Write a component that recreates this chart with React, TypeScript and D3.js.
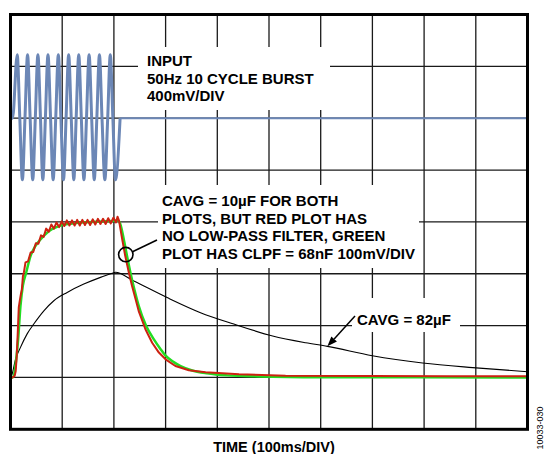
import * as d3 from "d3";
import { useEffect, useRef } from "react";

// INPUT burst, 50Hz, 400mV/DIV (centre on 2nd grid line from top)
const inputTimes = [
  0, 4, 13, 18, 23, 28, 33, 38, 43, 48, 53, 58, 62.5, 67.5, 72.5, 77.5, 82.5,
  87.5, 92.5, 97.5, 102.5, 107.5, 112.5, 117.5, 122.5, 127, 132, 137, 142, 147,
  152, 157, 162, 167, 172, 177, 182.5, 188, 193, 198, 203, 212,
];
const inputMv = [
  0, 0, 490, 0, -475, 0, 490, 0, -475, 0, 490, 0, -475, 0, 490, 0, -475, 0,
  490, 0, -475, 0, 490, 0, -475, 0, 490, 0, -475, 0, 490, 0, -475, 0, 490, 0,
  -475, 0, 490, 0, -475, 0,
];
const inputTailTimes = [212, 1000];
const inputTailMv = [0, 0];

// CAVG = 10uF, no low-pass filter (red), 100mV/DIV
const redTimes = [
  0, 4, 8, 10, 12, 14, 16, 18, 20, 22, 24, 26, 29, 34, 39, 44, 49, 54, 59, 64,
  69, 74, 79, 84, 89, 94, 99, 104, 109, 114, 119, 124, 129, 134, 139, 144, 149,
  154, 159, 164, 169, 174, 179, 184, 189, 194, 199, 204, 207, 210, 216, 222,
  229, 235, 242, 248, 261, 274, 287, 300, 319, 345, 377, 442, 532, 700, 850,
  1000,
];
const redMv = [
  0, 0, 3, 12, 40, 85, 135, 148, 160, 170, 195, 203, 222, 224, 241, 242, 259,
  258, 274, 271, 287, 281, 295, 287, 299, 290, 301, 292, 303, 293, 303, 293,
  304, 293, 304, 294, 304, 294, 305, 295, 306, 296, 306, 296, 307, 297, 308,
  299, 310, 302, 267, 234, 202, 177, 151, 128, 93, 67, 48, 35, 22, 14, 10, 6,
  3.5, 3, 2.5, 2.5,
];

// CAVG = 10uF, CLPF = 68nF (green)
const greenTimes = [
  0, 4, 6.4, 11, 14.8, 19.3, 23.9, 30.3, 38.7, 48.4, 58, 74, 93.5, 119, 158,
  203, 207, 212, 219, 225, 232, 240, 248, 262, 277, 290, 300, 315, 329, 350,
  380, 420, 480, 600, 1000,
];
const greenMv = [
  0, 0, 3, 35, 74, 138, 177, 202, 234, 254, 266, 282, 292, 297, 300, 302, 303,
  297, 267, 236, 202, 168, 138, 100, 74, 55, 42, 30, 22, 14, 8, 4, 2, 0.5, 0,
];

// CAVG = 82uF (black)
const blackTimes = [
  0, 3, 9.7, 19.3, 32.2, 45, 64.5, 83.8, 109.6, 141.8, 174, 200, 203, 238.5,
  303, 367.5, 432, 507, 571, 613, 700, 797, 894, 1000,
];
const blackMv = [
  0, 6, 35, 58, 84, 103, 128.5, 148, 164, 180, 193, 202, 203, 186, 154, 125,
  103, 80, 67, 60, 42, 28, 19, 11,
];

const inputLabel = ["INPUT", "50Hz 10 CYCLE BURST", "400mV/DIV"];
const cavgLabel = [
  "CAVG = 10µF FOR BOTH",
  "PLOTS, BUT RED PLOT HAS",
  "NO LOW-PASS FILTER, GREEN",
  "PLOT HAS CLPF = 68nF 100mV/DIV",
];

interface Sample {
  t: number;
  v: number;
}

function zip(times: number[], values: number[]): Sample[] {
  return times.map((t, i) => ({ t, v: values[i] }));
}

const FONT = "'Liberation Sans', Arial, sans-serif";

export default function App() {
  const ref = useRef<SVGSVGElement>(null);

  useEffect(() => {
    const svg = d3.select(ref.current);
    svg.selectAll("*").remove();

    // screen frame
    const left = 10.5;
    const right = 527.5;
    const top = 14.5;
    const bottom = 429.3;

    const x = d3.scaleLinear().domain([0, 1000]).range([left, right]);
    const yDiv = d3.scaleLinear().domain([-4, 4]).range([bottom, top]);
    const yIn = d3.scaleLinear().domain([-2400, 800]).range([bottom, top]);
    const yOut = d3.scaleLinear().domain([-100, 700]).range([bottom, top]);

    svg
      .append("rect")
      .attr("width", 544)
      .attr("height", 454)
      .attr("fill", "#fff");

    // grid
    svg
      .selectAll("line.vgrid")
      .data(d3.range(100, 1000, 100))
      .enter()
      .append("line")
      .attr("x1", (d) => x(d))
      .attr("x2", (d) => x(d))
      .attr("y1", top)
      .attr("y2", bottom)
      .attr("stroke", "#1a1a1a")
      .attr("stroke-width", 1.3);

    svg
      .selectAll("line.hgrid")
      .data(d3.range(-3, 4))
      .enter()
      .append("line")
      .attr("x1", left)
      .attr("x2", right)
      .attr("y1", (d) => yDiv(d))
      .attr("y2", (d) => yDiv(d))
      .attr("stroke", "#1a1a1a")
      .attr("stroke-width", 1.3);

    const inLine = d3
      .line<Sample>()
      .x((d) => x(d.t))
      .y((d) => yIn(d.v))
      .curve(d3.curveMonotoneX);

    const outSmooth = d3
      .line<Sample>()
      .x((d) => x(d.t))
      .y((d) => yOut(d.v))
      .curve(d3.curveMonotoneX);

    const outRaw = d3
      .line<Sample>()
      .x((d) => x(d.t))
      .y((d) => yOut(d.v));

    // input burst + flat tail
    svg
      .append("path")
      .datum(zip(inputTailTimes, inputTailMv))
      .attr("fill", "none")
      .attr("stroke", "#6c87b6")
      .attr("stroke-width", 2)
      .attr("d", inLine);

    svg
      .append("path")
      .datum(zip(inputTimes, inputMv))
      .attr("fill", "none")
      .attr("stroke", "#6c87b6")
      .attr("stroke-width", 3)
      .attr("stroke-linejoin", "round")
      .attr("d", inLine);

    // 82uF
    svg
      .append("path")
      .datum(zip(blackTimes, blackMv))
      .attr("fill", "none")
      .attr("stroke", "#000")
      .attr("stroke-width", 1.1)
      .attr("d", outSmooth);

    // with LPF
    svg
      .append("path")
      .datum(zip(greenTimes, greenMv))
      .attr("fill", "none")
      .attr("stroke", "#22dd22")
      .attr("stroke-width", 2.5)
      .attr("d", outSmooth);

    // no LPF
    svg
      .append("path")
      .datum(zip(redTimes, redMv))
      .attr("fill", "none")
      .attr("stroke", "#cc2211")
      .attr("stroke-width", 2)
      .attr("stroke-linejoin", "round")
      .attr("d", outRaw);

    // label boxes (mask the graticule)
    const boxes = [
      { x: 138, y: 47, w: 192, h: 63 },
      { x: 158, y: 185, w: 261, h: 83 },
      { x: 352, y: 298, w: 108, h: 34 },
    ];
    svg
      .selectAll("rect.box")
      .data(boxes)
      .enter()
      .append("rect")
      .attr("x", (d) => d.x)
      .attr("y", (d) => d.y)
      .attr("width", (d) => d.w)
      .attr("height", (d) => d.h)
      .attr("fill", "#fff");

    const label = (lines: string[], lx: number, ly: number, step: number) => {
      svg
        .append("g")
        .selectAll("text")
        .data(lines)
        .enter()
        .append("text")
        .attr("x", lx)
        .attr("y", (_, i) => ly + i * step)
        .attr("font-family", FONT)
        .attr("font-weight", "bold")
        .attr("font-size", 15)
        .attr("fill", "#000")
        .text((d) => d);
    };

    label(inputLabel, 147, 66, 17.5);
    label(cavgLabel, 162, 206, 17.7);
    label(["CAVG = 82µF"], 357, 325, 0);

    // circle marking the 10uF traces + leader to the label
    const cx = x(223);
    const cy = yOut(237);
    svg
      .append("circle")
      .attr("cx", cx)
      .attr("cy", cy)
      .attr("r", 7.2)
      .attr("fill", "none")
      .attr("stroke", "#000")
      .attr("stroke-width", 1.6);
    svg
      .append("line")
      .attr("x1", cx + 6.7)
      .attr("y1", cy - 2.8)
      .attr("x2", 157)
      .attr("y2", 240)
      .attr("stroke", "#000")
      .attr("stroke-width", 1.6);

    // arrow to 82uF trace
    const tipX = x(613);
    const tipY = yOut(60);
    const tailX = 355;
    const tailY = 316;
    const len = Math.hypot(tipX - tailX, tipY - tailY);
    const ux = (tipX - tailX) / len;
    const uy = (tipY - tailY) / len;
    const hl = 10;
    const hw = 3.8;
    const bx = tipX - ux * hl;
    const by = tipY - uy * hl;
    svg
      .append("line")
      .attr("x1", tailX)
      .attr("y1", tailY)
      .attr("x2", bx)
      .attr("y2", by)
      .attr("stroke", "#000")
      .attr("stroke-width", 1.5);
    svg
      .append("polygon")
      .attr(
        "points",
        `${tipX},${tipY} ${bx - uy * hw},${by + ux * hw} ${bx + uy * hw},${by - ux * hw}`
      )
      .attr("fill", "#000");

    // frame
    svg
      .append("rect")
      .attr("x", left)
      .attr("y", top)
      .attr("width", right - left)
      .attr("height", bottom - top)
      .attr("fill", "none")
      .attr("stroke", "#000")
      .attr("stroke-width", 3);

    svg
      .append("text")
      .attr("x", 274)
      .attr("y", 452)
      .attr("text-anchor", "middle")
      .attr("font-family", FONT)
      .attr("font-weight", "bold")
      .attr("font-size", 14.5)
      .text("TIME (100ms/DIV)");

    svg
      .append("text")
      .attr("transform", "translate(542.5,428) rotate(-90)")
      .attr("text-anchor", "middle")
      .attr("font-family", FONT)
      .attr("font-size", 9)
      .text("10033-030");
  }, []);

  return (
    <svg
      ref={ref}
      width={544}
      height={454}
      style={{ position: "absolute", left: 0, top: 0 }}
    />
  );
}
